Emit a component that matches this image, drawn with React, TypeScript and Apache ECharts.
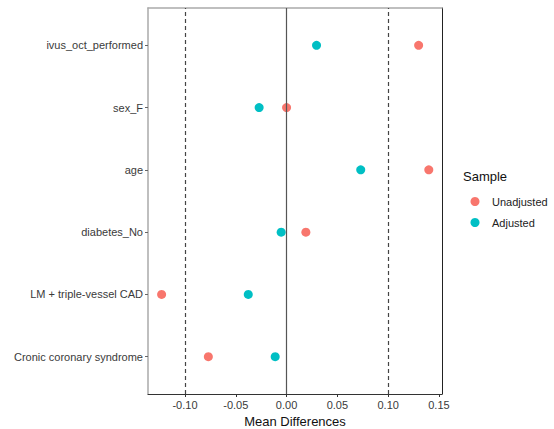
import React, { useEffect, useRef } from "react";
import * as echarts from "echarts";

const categories = [
  "ivus_oct_performed",
  "sex_F",
  "age",
  "diabetes_No",
  "LM + triple-vessel CAD",
  "Cronic coronary syndrome",
];
const unadjusted = [0.13, 0.0, 0.14, 0.019, -0.123, -0.077];
const adjusted = [0.0295, -0.027, 0.073, -0.0053, -0.0377, -0.0112];
const xTicks = [-0.1, -0.05, 0, 0.05, 0.1, 0.15];
const seriesNames = ["Unadjusted", "Adjusted"];
const colors = ["#F8766D", "#00BFC4"];
const thresholds = [-0.1, 0.1];

const FONT = "'Liberation Sans', Arial, sans-serif";

export default function App() {
  const ref = useRef<HTMLDivElement>(null);
  useEffect(() => {
    if (!ref.current) return;
    document.body.style.margin = "0";
    const chart = echarts.init(ref.current, undefined, { renderer: "svg" });
    const n = categories.length;
    const toY = (i: number) => n - i;
    const yTicks = categories.map((_, i) => toY(i));
    const mk = (vals: number[]) => vals.map((v, i) => [v, toY(i)]);
    chart.setOption({
      animation: false,
      textStyle: { fontFamily: FONT },
      grid: {
        left: 148,
        right: 112,
        top: 8,
        bottom: 35,
        show: false,
        containLabel: false,
        outerBoundsMode: "none",
      },
      xAxis: [
        {
          type: "value",
          min: -0.1364,
          max: 0.153,
          position: "bottom",
          axisLine: { show: true, onZero: false, lineStyle: { color: "#333", width: 1 } },
          axisTick: { show: true, length: 3, lineStyle: { color: "#333" }, customValues: xTicks },
          axisLabel: {
            customValues: xTicks,
            formatter: (v: number) => v.toFixed(2),
            color: "#3a3a3a",
            fontSize: 11,
            margin: 5,
            fontFamily: FONT,
          },
          splitLine: { show: false },
          name: "Mean Differences",
          nameLocation: "middle",
          nameGap: 21,
          nameTextStyle: { fontSize: 13, color: "#111", fontFamily: FONT },
        },
        {
          type: "value",
          min: -0.1364,
          max: 0.153,
          position: "top",
          axisLine: { show: true, onZero: false, lineStyle: { color: "#aaa", width: 1.5 } },
          axisTick: { show: false },
          axisLabel: { show: false },
          splitLine: { show: false },
        },
      ],
      yAxis: [
        {
          type: "value",
          min: 0.4,
          max: n + 0.6,
          position: "left",
          axisLine: { show: true, onZero: false, lineStyle: { color: "#aaa", width: 1.5 } },
          axisTick: { show: true, length: 3, lineStyle: { color: "#666" }, customValues: yTicks },
          axisLabel: {
            customValues: yTicks,
            formatter: (v: number) => categories[n - Math.round(v)] ?? "",
            color: "#3a3a3a",
            fontSize: 11,
            margin: 5,
            fontFamily: FONT,
          },
          splitLine: { show: false },
        },
        {
          type: "value",
          min: 0.4,
          max: n + 0.6,
          position: "right",
          axisLine: { show: true, onZero: false, lineStyle: { color: "#222", width: 1 } },
          axisTick: { show: false },
          axisLabel: { show: false },
          splitLine: { show: false },
        },
      ],
      series: [
        {
          type: "line",
          data: [],
          markLine: {
            silent: true,
            symbol: "none",
            label: { show: false },
            data: [
              ...thresholds.map((t) => ({
                xAxis: t,
                lineStyle: { type: [4, 3], color: "#444", width: 1.2 },
              })),
              { xAxis: 0, lineStyle: { type: "solid", color: "#555", width: 1.2 } },
            ],
          },
        },
        {
          name: seriesNames[0],
          type: "scatter",
          symbolSize: 9,
          itemStyle: { color: colors[0], opacity: 1 },
          data: mk(unadjusted),
          z: 3,
        },
        {
          name: seriesNames[1],
          type: "scatter",
          symbolSize: 9,
          itemStyle: { color: colors[1], opacity: 1 },
          data: mk(adjusted),
          z: 3,
        },
      ],
      graphic: [
        {
          type: "text",
          left: 463,
          top: 170,
          style: { text: "Sample", fontSize: 13, fill: "#111", fontFamily: FONT },
        },
        ...seriesNames.flatMap((name, i) => [
          {
            type: "circle",
            shape: { cx: 475, cy: 201.5 + i * 21, r: 4.5 },
            style: { fill: colors[i] },
          },
          {
            type: "text",
            x: 492,
            y: 201.5 + i * 21,
            style: {
              text: name,
              fontSize: 11,
              fill: "#222",
              fontFamily: FONT,
              verticalAlign: "middle",
            },
          },
        ]),
      ],
    });
    return () => chart.dispose();
  }, []);
  return <div ref={ref} style={{ width: 554, height: 429 }} />;
}
